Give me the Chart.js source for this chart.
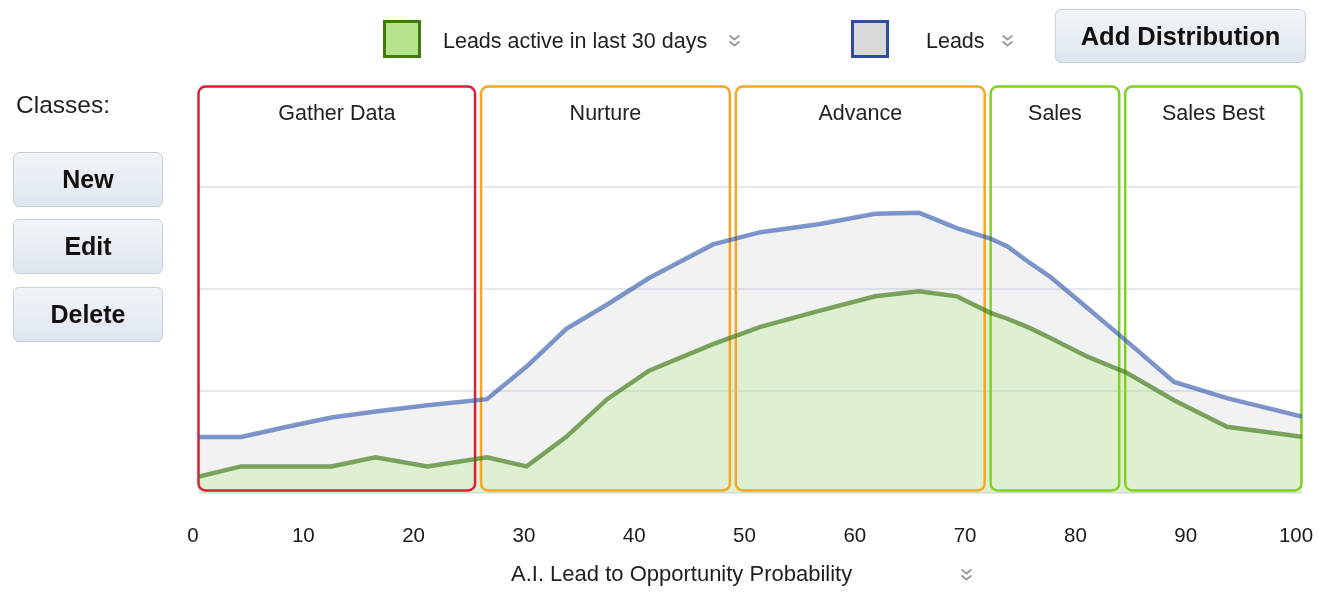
<!DOCTYPE html>
<html>
<head>
<meta charset="utf-8">
<script src="https://cdn.jsdelivr.net/npm/chart.js@4/dist/chart.umd.min.js"></script>
<style>
  html, body { margin: 0; padding: 0; background: #fff; }
  body { width: 1319px; height: 592px; position: relative; overflow: hidden;
         font-family: 'Liberation Sans', Arial, Helvetica, sans-serif; color: #1e1e1e; }
  #chart { position: absolute; left: 0; top: 0; }
  .abs { position: absolute; }
  .swatch { width: 32px; height: 32px; border: 3px solid; }
  .label { font-size: 21.5px; line-height: 24px; white-space: nowrap; }
  .chev { width: 13px; height: 14px; }
  .btn { box-sizing: border-box; border: 1px solid #c8d0d8; border-radius: 6px;
         background: linear-gradient(#f1f5f9, #dfe6ee); font-weight: bold; color: #111;
         display: flex; align-items: center; justify-content: center; white-space: nowrap; }
</style>
</head>
<body>
<canvas id="chart" width="1319" height="592"></canvas>

<!-- legend -->
<div class="abs swatch" style="left:383px; top:20px; background:#b6e48c; border-color:#3e7a10;"></div>
<div class="abs label" style="left:443px; top:29px;">Leads active in last 30 days</div>
<svg class="abs chev" style="left:728px; top:34px;" viewBox="0 0 13 14"><polyline points="1.5,1.5 6.5,5.5 11.5,1.5" fill="none" stroke="#9a9a9a" stroke-width="1.8"/><polyline points="1.5,7.5 6.5,11.5 11.5,7.5" fill="none" stroke="#9a9a9a" stroke-width="1.8"/></svg>
<div class="abs swatch" style="left:851px; top:20px; background:#d9d9d9; border-color:#2e4f9e;"></div>
<div class="abs label" style="left:926px; top:29px;">Leads</div>
<svg class="abs chev" style="left:1001px; top:34px;" viewBox="0 0 13 14"><polyline points="1.5,1.5 6.5,5.5 11.5,1.5" fill="none" stroke="#9a9a9a" stroke-width="1.8"/><polyline points="1.5,7.5 6.5,11.5 11.5,7.5" fill="none" stroke="#9a9a9a" stroke-width="1.8"/></svg>
<div class="abs btn" style="left:1055px; top:9px; width:251px; height:54px; font-size:25.5px;">Add Distribution</div>

<!-- class controls -->
<div class="abs" style="left:16px; top:92px; font-size:24.5px; line-height:26px;">Classes:</div>
<div class="abs btn" style="left:13px; top:152px; width:150px; height:55px; font-size:25px;">New</div>
<div class="abs btn" style="left:13px; top:219px; width:150px; height:55px; font-size:25px;">Edit</div>
<div class="abs btn" style="left:13px; top:287px; width:150px; height:55px; font-size:25px;">Delete</div>

<!-- x axis title -->
<div class="abs label" style="left:511px; top:562px; font-size:22px;">A.I. Lead to Opportunity Probability</div>
<svg class="abs chev" style="left:960px; top:568px;" viewBox="0 0 13 14"><polyline points="1.5,1.5 6.5,5.5 11.5,1.5" fill="none" stroke="#9a9a9a" stroke-width="1.8"/><polyline points="1.5,7.5 6.5,11.5 11.5,7.5" fill="none" stroke="#9a9a9a" stroke-width="1.8"/></svg>

<script>
// Probability positions (x) and lead counts per series
const probability = [0, 3.8, 8, 12, 16, 20.7, 26.1, 29.7, 33.3, 37, 40.8, 46.6, 50.9,
                     56.3, 61.3, 65.3, 68.7, 71.7, 73.3, 75.3, 77.2, 80.5, 84.1, 88.4, 93.2, 100];
const leads       = [55, 55, 65, 74, 80, 86, 92, 124, 161, 185, 211, 244, 256,
                     264, 274, 275, 260, 250, 242, 226, 212, 182, 149, 109, 93, 75];
const leadsActive = [16, 26, 26, 26, 35, 26, 35, 26, 55, 92, 120, 146, 163,
                     179, 193, 198, 193, 177, 171, 162, 152, 134, 118, 91, 65, 55];

// Classes along the probability axis
const classNames  = ['Gather Data', 'Nurture', 'Advance', 'Sales', 'Sales Best'];
const classBounds = [0, 25.3, 48.4, 71.5, 83.7, 100];
const classColors = ['#dc1f35', '#f5a623', '#f5a623', '#7ed321', '#7ed321'];

const xTickLabels = ['0', '10', '20', '30', '40', '50', '60', '70', '80', '90', '100'];

Chart.defaults.font.family = "'Liberation Sans', Arial, Helvetica, sans-serif";

const toPoints = vals => vals.map((v, i) => ({ x: probability[i], y: v }));

// Rounded class boxes with their titles, drawn over the fills and under the lines
const classBoxes = {
  id: 'classBoxes',
  beforeDatasetsDraw(chart) {
    const { ctx, chartArea, scales: { x } } = chart;
    const top = chartArea.top + 1;
    const bottom = chartArea.bottom - 2.5;
    ctx.save();
    classNames.forEach((name, i) => {
      const s = classBounds[i], e = classBounds[i + 1];
      const left = x.getPixelForValue(s) + (i === 0 ? -0.5 : 3);
      const right = x.getPixelForValue(e) - (i === classNames.length - 1 ? 0.5 : 3);
      ctx.beginPath();
      ctx.roundRect(left, top, right - left, bottom - top, 7);
      ctx.lineWidth = 2.5;
      ctx.strokeStyle = classColors[i];
      ctx.stroke();
      ctx.fillStyle = '#222';
      ctx.font = "21.5px 'Liberation Sans', Arial, sans-serif";
      ctx.textAlign = 'center';
      ctx.textBaseline = 'middle';
      ctx.fillText(name, (left + right) / 2, 114);
    });
    ctx.restore();
  }
};

new Chart(document.getElementById('chart'), {
  type: 'line',
  data: {
    datasets: [
      {
        label: 'Leads active in last 30 days',
        data: toPoints(leadsActive),
        borderColor: 'rgba(60,120,20,0.65)',
        backgroundColor: 'rgba(182,235,142,0.32)',
        borderWidth: 4.5,
        fill: 'origin',
        pointRadius: 0,
        tension: 0
      },
      {
        label: 'Leads',
        data: toPoints(leads),
        borderColor: 'rgba(40,80,170,0.6)',
        backgroundColor: 'rgba(120,120,120,0.095)',
        borderWidth: 4.5,
        fill: 'origin',
        pointRadius: 0,
        tension: 0
      }
    ]
  },
  options: {
    responsive: false,
    animation: false,
    events: [],
    layout: { autoPadding: false, padding: { left: 199, right: 17, top: 85.5, bottom: 12.5 } },
    scales: {
      x: {
        type: 'linear',
        min: 0,
        max: 100,
        border: { display: false },
        grid: { display: false, drawTicks: false },
        afterFit: (scale) => { scale.paddingLeft = 0; scale.paddingRight = 0; },
        ticks: {
          stepSize: 10,
          padding: 31,
          labelOffset: -6,
          color: '#1a1a1a',
          font: { size: 20.5 },
          callback: (v) => xTickLabels[Math.round(v / 10)]
        }
      },
      y: {
        min: 0,
        max: 400,
        border: { display: false },
        ticks: { display: false, stepSize: 100 },
        grid: {
          drawTicks: false,
          lineWidth: 2,
          color: c => (c.tick && c.tick.value === 400) ? 'rgba(0,0,0,0)' : '#e6e9ee'
        }
      }
    },
    plugins: {
      legend: { display: false },
      tooltip: { enabled: false },
      filler: { drawTime: 'beforeDatasetsDraw' }
    }
  },
  plugins: [classBoxes]
});
</script>
</body>
</html>
